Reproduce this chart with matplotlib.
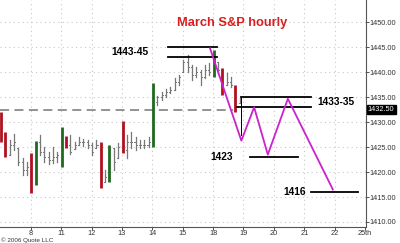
import numpy as np
import matplotlib as mpl

mpl.use('agg')

import matplotlib.pyplot as plt

plt.rcParams['font.family'] = ['Liberation Sans', 'DejaVu Sans']

# hourly bars, 7 per day
highs = [1432, 1428, 1426.5, 1427.7, 1424.9, 1422.9, 1422,
         1423.9, 1426.3, 1427.5, 1425, 1424, 1425, 1424,
         1429, 1427.3, 1427.5, 1426.1, 1427.1, 1426.7, 1426.5,
         1425.9, 1426.5, 1426, 1420.5, 1425.5, 1424.9, 1425.8,
         1430.3, 1427.5, 1428.1, 1427, 1426.5, 1426.5, 1427,
         1437.9, 1435.3, 1436, 1436.7, 1437, 1438.8, 1439.4,
         1442.5, 1443.5, 1441.5, 1441, 1440.5, 1441.5, 1441.8,
         1444.5, 1442, 1440.8, 1439.8, 1439, 1437.5, 1434.8]
lows = [1426, 1423, 1423.5, 1424.5, 1421.5, 1419.5, 1419.5,
        1415.9, 1417.5, 1423.5, 1422, 1421.7, 1421.9, 1422,
        1421, 1424.9, 1423.7, 1424.7, 1425.5, 1425.3, 1424.9,
        1423.5, 1424.9, 1416.9, 1418.1, 1418.1, 1420.5, 1422.9,
        1423.9, 1422.9, 1424.9, 1424.5, 1424.9, 1424.9, 1425,
        1425, 1433.5, 1434.5, 1435, 1435.8, 1436.5, 1437.5,
        1440, 1440, 1438.5, 1439, 1437.5, 1438.8, 1439.5,
        1439, 1439.9, 1435.4, 1437.5, 1437, 1432, 1433.8]
closes = [1426.5, 1423.5, 1425.5, 1426, 1422, 1420.5, 1421,
          1416.5, 1426, 1424, 1423, 1422.5, 1423, 1423.5,
          1428.5, 1425.5, 1424, 1425.5, 1426, 1426, 1425.5,
          1424, 1425.5, 1417.5, 1419, 1425, 1422, 1425,
          1424.5, 1426, 1426, 1425.5, 1425.5, 1425.5, 1426,
          1434, 1435, 1435.5, 1436, 1436.5, 1438, 1439,
          1442, 1441, 1439.5, 1440, 1439, 1440.5, 1440,
          1443.5, 1440.5, 1436, 1438, 1437.5, 1432.5, 1434]
kinds = list("rrkkkkk" "rgkkkkk" "grkkkkk" "kkrkgkk" "rkkkkkk" "gkkkkkk" "kkkkkkk" "gkrkkrk")

day_labels = ['8', '11', '12', '13', '14', '15', '18', '19', '20', '21', '22', '25th']
price_ticks = [1410, 1415, 1420, 1425, 1430, 1435, 1440, 1445, 1450]
last_price = 1432.5

# projected path and target levels
path_x = [6.9, 7.93, 8.35, 8.8, 9.46, 10.94]
path_y = [1444.8, 1426.3, 1433, 1423.5, 1434.7, 1416.5]
levels = [(1445, 5.52, 7.13), (1443, 5.52, 7.13), (1435, 7.92, 10.22),
          (1433, 7.79, 10.22), (1423, 8.21, 9.79), (1416, 10.22, 11.77)]
notes = [('1443-45', 4.27, 1444.1), ('1433-35', 11.04, 1434.1),
         ('1423', 7.29, 1423.1), ('1416', 9.7, 1416.1)]

fig = plt.figure(figsize=(4, 2.43), dpi=100)
ax = fig.add_axes([0, 0.064, 0.915, 0.936])
ax.set_xlim(-0.01, 12.03)
ax.set_ylim(1408.9, 1454.5)

for p in price_ticks:
    ax.axhline(p, color='#c8c8c8', lw=0.8, ls=(0, (1, 3)), zorder=0)
for d in range(1, 12):
    ax.axvline(d, color='#c8c8c8', lw=0.8, ls=(0, (1, 3)), zorder=0)

ax.plot([0, 7.65], [last_price, last_price], color='#8a8a8a', lw=1.3,
        ls=(0, (5, 3)), zorder=1)

w = 0.035
prev = closes[0]
for i in range(len(highs)):
    x = i / 7 + 0.02
    h, l, c, k = highs[i], lows[i], closes[i], kinds[i]
    o = min(max(prev, l), h)
    if k == 'r':
        ax.plot([x, x], [l, h], color='#b01020', lw=2.0, solid_capstyle='butt', zorder=3)
    elif k == 'g':
        ax.plot([x, x], [l, h], color='#1f6a1f', lw=2.0, solid_capstyle='butt', zorder=3)
    else:
        ax.plot([x, x], [l, h], color='#777777', lw=0.9, zorder=3)
        ax.plot([x - w, x], [o, o], color='#777777', lw=0.7, zorder=3)
        ax.plot([x, x + w], [c, c], color='#777777', lw=0.7, zorder=3)
    prev = c

for y, x0, x1 in levels:
    ax.plot([x0, x1], [y, y], color='black', lw=1.3, zorder=4)
ax.plot([7.92, 7.92], [1435, 1427.5], color='black', lw=0.7, zorder=4)

ax.plot(path_x, path_y, color='#cc22cc', lw=1.3, zorder=5)

ax.text(7.62, 1449.9, 'March S&P hourly', color='#d81e1e', fontsize=9.3,
        fontweight='bold', ha='center', va='center')
for s, x, y in notes:
    ax.text(x, y, s, fontsize=7.3, fontweight='bold', ha='center', va='center')

ax.yaxis.tick_right()
ax.set_yticks(price_ticks)
ax.set_yticklabels(['%.2f' % p for p in price_ticks])
ax.set_xticks(range(1, 13))
ax.set_xticklabels(day_labels)
ax.tick_params(axis='both', labelsize=5.3, colors='#333333', length=2, width=0.6, pad=0.8)
ax.tick_params(axis='x', pad=0.0)
for s in ['left', 'top']:
    ax.spines[s].set_visible(False)
for s in ['right', 'bottom']:
    ax.spines[s].set_color('#555555')
    ax.spines[s].set_linewidth(0.8)

ax.text(1.005, last_price, '%.2f' % last_price, transform=ax.get_yaxis_transform(),
        fontsize=5.3, color='white', va='center', ha='left',
        bbox=dict(boxstyle='square,pad=0.15', fc='black', ec='black'))

fig.text(0.002, 0.002, '\u00a9 2006 Quote LLC', fontsize=4.5, color='#333333',
         ha='left', va='bottom')

fig.savefig('out.png', dpi=100)
